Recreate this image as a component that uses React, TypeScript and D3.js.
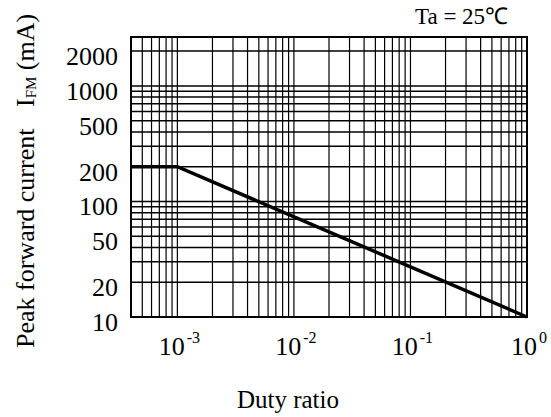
import * as React from "react";
import * as d3 from "d3";

// duty ratio vs allowed peak forward current
const dutyRatio = [4e-4, 1e-3, 1];
const peakCurrent = [200, 200, 10];

const xTickExps = [-3, -2, -1, 0];
const yTickLabels = [10, 20, 50, 100, 200, 500, 1000, 2000];

const FONT = "'Liberation Serif', 'Times New Roman', serif";

function drawChart(svgRef: React.RefObject<SVGSVGElement>) {
  const w = 551;
  const h = 417;
  const left = 131;
  const right = 527;
  const top = 37;
  const bottom = 317;

  const svg = d3.select(svgRef.current);
  svg.selectAll("*").remove();
  svg.attr("width", w).attr("height", h).style("background", "#fff");

  const x = d3.scaleLog().domain([4e-4, 1]).range([left, right]);
  const y = d3.scaleLog().domain([10, 2650]).range([bottom, top]);

  // minor + major grid values (1..9 per decade)
  const xGrid: number[] = [];
  for (let e = -4; e <= 0; e++) {
    for (let k = 1; k <= 9; k++) {
      const v = k * Math.pow(10, e);
      if (v > 4e-4 * 1.001 && v < 0.999) xGrid.push(v);
    }
  }
  const yGrid: number[] = [];
  for (let e = 1; e <= 3; e++) {
    for (let k = 1; k <= 9; k++) {
      const v = k * Math.pow(10, e);
      if (v > 10.01 && v < 2650) yGrid.push(v);
    }
  }

  const g = svg.append("g");

  g.selectAll(".vgrid")
    .data(xGrid)
    .join("line")
    .attr("x1", (d) => x(d))
    .attr("x2", (d) => x(d))
    .attr("y1", top)
    .attr("y2", bottom)
    .attr("stroke", "#000")
    .attr("stroke-width", 1.2);

  g.selectAll(".hgrid")
    .data(yGrid)
    .join("line")
    .attr("x1", left)
    .attr("x2", right)
    .attr("y1", (d) => y(d))
    .attr("y2", (d) => y(d))
    .attr("stroke", "#000")
    .attr("stroke-width", 1.5);

  // frame
  g.append("rect")
    .attr("x", left)
    .attr("y", top)
    .attr("width", right - left)
    .attr("height", bottom - top)
    .attr("fill", "none")
    .attr("stroke", "#000")
    .attr("stroke-width", 2);

  // curve
  const line = d3
    .line<number>()
    .x((d) => x(d))
    .y((d, i) => y(peakCurrent[i]));
  g.append("path")
    .attr("d", line(dutyRatio))
    .attr("fill", "none")
    .attr("stroke", "#000")
    .attr("stroke-width", 3.5);

  // y tick labels
  svg
    .append("g")
    .selectAll("text")
    .data(yTickLabels)
    .join("text")
    .attr("x", 118)
    .attr("y", (d) => y(d) + 14)
    .attr("text-anchor", "end")
    .style("font-family", FONT)
    .style("font-size", "26px")
    .text((d) => d);

  // x tick labels 10^n
  const xt = svg
    .append("g")
    .selectAll("text")
    .data(xTickExps)
    .join("text")
    .attr("x", (d) => x(Math.pow(10, d)) + 2)
    .attr("y", 355)
    .attr("text-anchor", "middle")
    .style("font-family", FONT)
    .style("font-size", "26px");
  xt.append("tspan").text("10");
  xt.append("tspan")
    .attr("dx", 2)
    .attr("dy", -12)
    .style("font-size", "16px")
    .text((d) => (d === 0 ? "0" : `-${-d}`));

  // x title
  svg
    .append("text")
    .attr("x", 288)
    .attr("y", 408)
    .attr("text-anchor", "middle")
    .style("font-family", FONT)
    .style("font-size", "25px")
    .text("Duty ratio");

  // y title
  const yt = svg
    .append("g")
    .attr("transform", "translate(34,0) rotate(-90)")
    .style("font-family", FONT)
    .style("font-size", "26px");
  yt.append("text").attr("x", -348).attr("y", 0).text("Peak forward current");
  const unit = yt.append("text").attr("x", -107).attr("y", 0);
  unit.append("tspan").text("I");
  unit.append("tspan").attr("dy", 2).style("font-size", "15px").text("FM");
  unit.append("tspan").attr("dy", -2).text(" (mA)");

  // condition
  svg
    .append("text")
    .attr("x", 415)
    .attr("y", 24)
    .style("font-family", FONT)
    .style("font-size", "23px")
    .text("Ta = 25\u2103");
}

const App: React.FunctionComponent = () => {
  const svg = React.useRef<SVGSVGElement>(null);
  React.useEffect(() => {
    drawChart(svg);
  }, [svg]);

  return (
    <div id="chart">
      <svg ref={svg} style={{ position: "absolute", left: 0, top: 0 }} />
    </div>
  );
};

export default App;
